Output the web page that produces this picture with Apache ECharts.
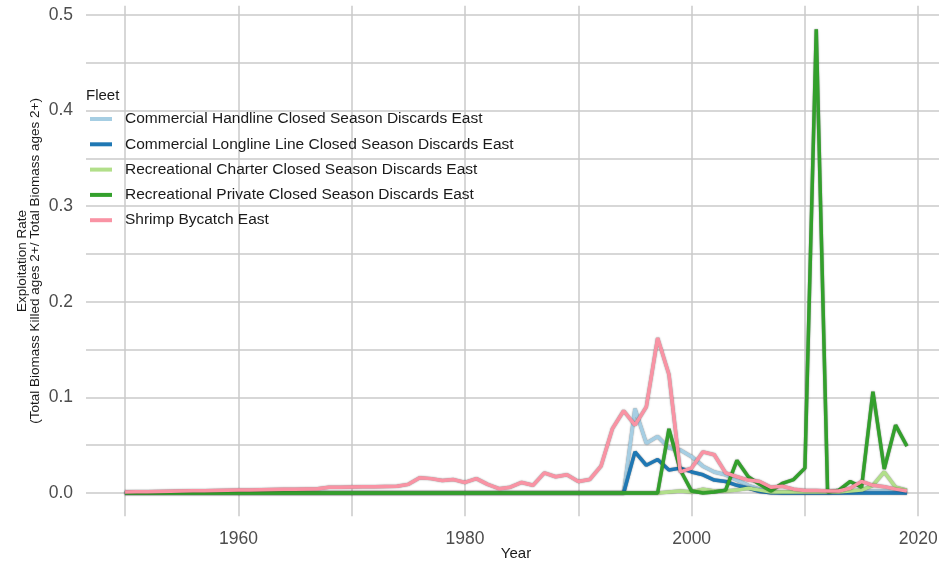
<!DOCTYPE html>
<html>
<head>
<meta charset="utf-8">
<script src="https://cdn.jsdelivr.net/npm/echarts@6/dist/echarts.min.js"></script>
<style>
  html, body { margin: 0; padding: 0; background: #fff; }
  #chart { width: 939px; height: 565px; }
</style>
</head>
<body>
<div id="chart"></div>
<script>
// years 1950..2019
const years = [
  1950, 1951, 1952, 1953, 1954, 1955, 1956, 1957, 1958, 1959,
  1960, 1961, 1962, 1963, 1964, 1965, 1966, 1967, 1968, 1969,
  1970, 1971, 1972, 1973, 1974, 1975, 1976, 1977, 1978, 1979,
  1980, 1981, 1982, 1983, 1984, 1985, 1986, 1987, 1988, 1989,
  1990, 1991, 1992, 1993, 1994, 1995, 1996, 1997, 1998, 1999,
  2000, 2001, 2002, 2003, 2004, 2005, 2006, 2007, 2008, 2009,
  2010, 2011, 2012, 2013, 2014, 2015, 2016, 2017, 2018, 2019
];

const handline = [
  0, 0, 0, 0, 0, 0, 0, 0, 0, 0,
  0, 0, 0, 0, 0, 0, 0, 0, 0, 0,
  0, 0, 0, 0, 0, 0, 0, 0, 0, 0,
  0, 0, 0, 0, 0, 0, 0, 0, 0, 0,
  0, 0, 0, 0, 0, 0.088, 0.052, 0.059, 0.047, 0.045,
  0.038, 0.028, 0.022, 0.019, 0.0135, 0.008, 0.004, 0.001, 0.0005, 0.0005,
  0.0005, 0.0005, 0.0005, 0.001, 0.001, 0.002, 0.002, 0.002, 0.001, 0.0005
];

const longline = [
  0, 0, 0, 0, 0, 0, 0, 0, 0, 0,
  0, 0, 0, 0, 0, 0, 0, 0, 0, 0,
  0, 0, 0, 0, 0, 0, 0, 0, 0, 0,
  0, 0, 0, 0, 0, 0, 0, 0, 0, 0,
  0, 0, 0, 0, 0, 0.043, 0.029, 0.035, 0.024, 0.026,
  0.022, 0.019, 0.0135, 0.012, 0.008, 0.005, 0.0015, 0.0003, 0, 0,
  0, 0, 0, 0, 0, 0, 0, 0, 0, 0
];

const charter = [
  0, 0, 0, 0, 0, 0, 0, 0, 0, 0,
  0, 0, 0, 0, 0, 0, 0, 0, 0, 0,
  0, 0, 0, 0, 0, 0, 0, 0, 0, 0,
  0, 0, 0, 0, 0, 0, 0, 0, 0, 0,
  0, 0, 0, 0, 0, 0, 0, 0, 0.001, 0.002,
  0.001, 0.004, 0.002, 0.002, 0.003, 0.005, 0.003, 0.001, 0.001, 0.001,
  0.001, 0.001, 0.001, 0.001, 0.002, 0.003, 0.008, 0.022, 0.006, 0.003
];

const privateRec = [
  0, 0, 0, 0, 0, 0, 0, 0, 0, 0,
  0, 0, 0, 0, 0, 0, 0, 0, 0, 0,
  0, 0, 0, 0, 0, 0, 0, 0, 0, 0,
  0, 0, 0, 0, 0, 0, 0, 0, 0, 0,
  0, 0, 0, 0, 0, 0, 0, 0, 0.067, 0.024,
  0.002, 0, 0.001, 0.003, 0.034, 0.017, 0.009, 0.002, 0.010, 0.014,
  0.026, 0.485, 0.001, 0.003, 0.012, 0.006, 0.106, 0.025, 0.071, 0.049
];

const shrimp = [
  0.001, 0.0012, 0.0014, 0.0016, 0.0018, 0.002, 0.0022, 0.0024, 0.0026, 0.0028,
  0.003, 0.0032, 0.0034, 0.0036, 0.0038, 0.004, 0.0042, 0.0044, 0.006, 0.006,
  0.0062, 0.0064, 0.0066, 0.0068, 0.007, 0.009, 0.016, 0.015, 0.013, 0.014,
  0.011, 0.015, 0.009, 0.0045, 0.006, 0.011, 0.008, 0.021, 0.017, 0.019,
  0.012, 0.014, 0.028, 0.067, 0.086, 0.071, 0.09, 0.162, 0.124, 0.022,
  0.026, 0.043, 0.040, 0.021, 0.017, 0.0135, 0.012, 0.006, 0.007, 0.004,
  0.0025, 0.0025, 0.002, 0.002, 0.005, 0.012, 0.008, 0.0066, 0.004, 0.002
];

const fleetNames = [
  'Commercial Handline Closed Season Discards East',
  'Commercial Longline Line Closed Season Discards East',
  'Recreational Charter Closed Season Discards East',
  'Recreational Private Closed Season Discards East',
  'Shrimp Bycatch East'
];
const fleetValues = [handline, longline, charter, privateRec, shrimp];
const fleetColors = ['#A6CEE3', '#1F78B4', '#B2DF8A', '#33A02C', '#F993A4'];

const xLabelValues = [1960, 1980, 2000, 2020];
const xGridValues = [1950, 1960, 1970, 1980, 1990, 2000, 2010, 2020];
const yLabelValues = [0, 0.1, 0.2, 0.3, 0.4, 0.5];
const yGridValues = [0, 0.05, 0.1, 0.15, 0.2, 0.25, 0.3, 0.35, 0.4, 0.45, 0.5];

const font = 'Liberation Sans, Arial, sans-serif';
const gridColor = '#cacaca';

const chart = echarts.init(document.getElementById('chart'));

chart.setOption({
  animation: false,
  backgroundColor: '#fff',
  title: {
    text: 'Fleet',
    left: 81,
    top: 83,
    textStyle: { fontFamily: font, fontSize: 15, fontWeight: 'normal', color: '#1a1a1a' }
  },
  legend: {
    orient: 'vertical',
    left: 90,
    top: 111,
    icon: 'rect',
    itemWidth: 22,
    itemHeight: 4,
    itemGap: 9.3,
    padding: 0,
    textStyle: { fontFamily: font, fontSize: 15.5, color: '#1a1a1a', lineHeight: 16, padding: [0, 0, 0, 8] },
    data: fleetNames
  },
  grid: { left: 86, right: -7, top: 5.7, bottom: 48.8, containLabel: false, outerBoundsMode: 'none' },
  xAxis: {
    type: 'value',
    min: 1946.55,
    max: 2022.45,
    name: 'Year',
    nameLocation: 'middle',
    nameGap: 30,
    nameMoveOverlap: false,
    nameTextStyle: { fontFamily: font, fontSize: 15, color: '#1a1a1a' },
    axisLine: { show: false },
    axisTick: { show: false, customValues: xGridValues },
    axisLabel: {
      customValues: xLabelValues,
      margin: 14,
      fontFamily: font,
      fontSize: 17.5,
      color: '#4d4d4d',
      formatter: (v) => String(v)
    },
    splitLine: { show: true, lineStyle: { color: gridColor, width: 1.5 } }
  },
  yAxis: {
    type: 'value',
    min: -0.0243,
    max: 0.5097,
    name: 'Exploitation Rate\n(Total Biomass Killed ages 2+/ Total Biomass ages 2+)',
    nameLocation: 'middle',
    nameGap: 44,
    nameMoveOverlap: false,
    nameTextStyle: { fontFamily: font, fontSize: 13.5, color: '#1a1a1a', lineHeight: 13 },
    axisLine: { show: false },
    axisTick: { show: false, customValues: yGridValues },
    axisLabel: {
      customValues: yLabelValues,
      margin: 13,
      fontFamily: font,
      fontSize: 17.5,
      color: '#4d4d4d',
      formatter: (v) => v.toFixed(1)
    },
    splitLine: { show: true, lineStyle: { color: gridColor, width: 1.5 } }
  },
  series: fleetNames.map((name, i) => ({
    name: name,
    type: 'line',
    showSymbol: false,
    symbol: 'none',
    color: fleetColors[i],
    lineStyle: { width: 3.5, color: fleetColors[i], shadowColor: 'rgba(0,0,0,0.5)', shadowBlur: 1.5 },
    data: years.map((yr, j) => [yr, fleetValues[i][j]])
  }))
});
</script>
</body>
</html>
